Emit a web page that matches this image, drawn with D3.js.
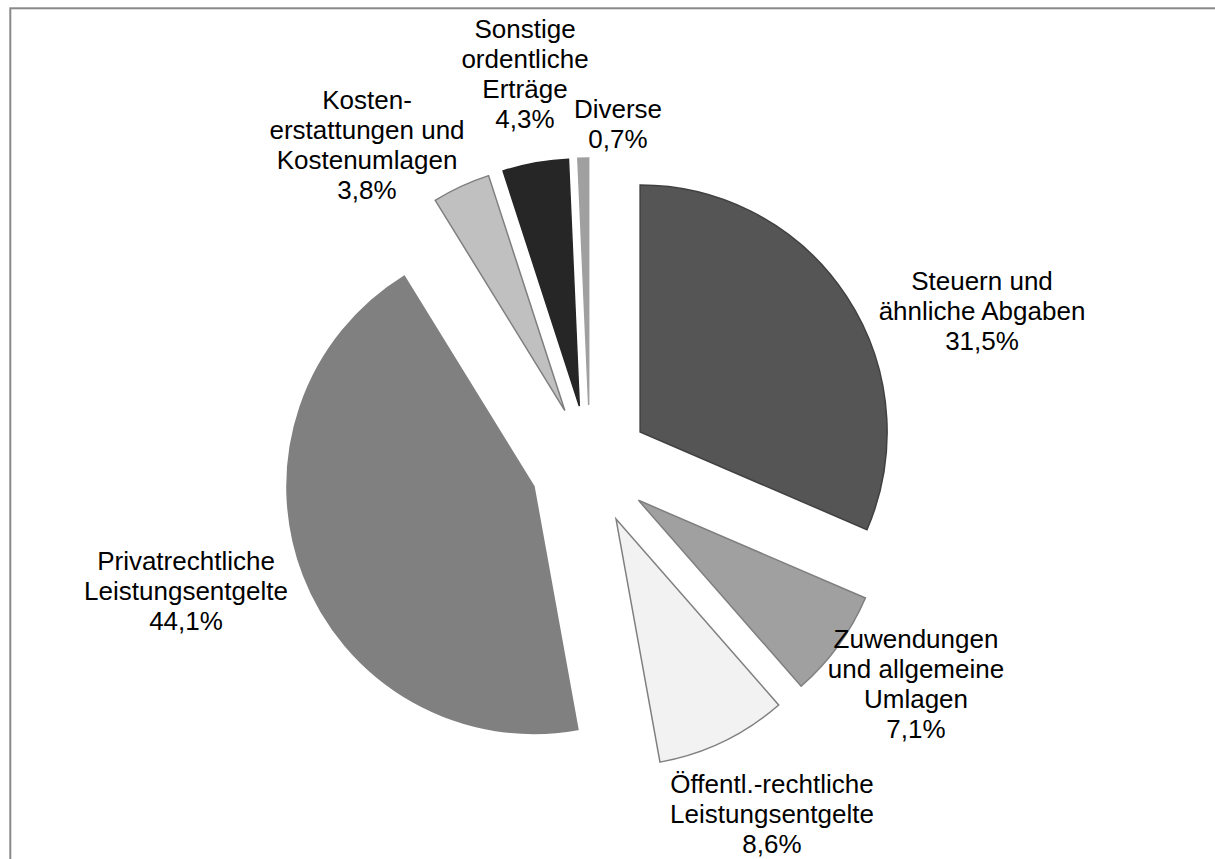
<!DOCTYPE html>
<html>
<head>
<meta charset="utf-8">
<script src="https://cdn.jsdelivr.net/npm/d3@7"></script>
<style>
  html, body { margin: 0; padding: 0; background: #fff; }
  svg { display: block; }
  text { font-family: "Liberation Sans", Arial, sans-serif; fill: #000; }
</style>
</head>
<body>
<svg id="chart" width="1215" height="859"></svg>
<script>
// Data
const categories = [
  "Steuern und ähnliche Abgaben",
  "Zuwendungen und allgemeine Umlagen",
  "Öffentl.-rechtliche Leistungsentgelte",
  "Privatrechtliche Leistungsentgelte",
  "Kosten-erstattungen und Kostenumlagen",
  "Sonstige ordentliche Erträge",
  "Diverse"
];
const values = [31.5, 7.1, 8.6, 44.1, 3.8, 4.3, 0.7];
const valueLabels = ["31,5%", "7,1%", "8,6%", "44,1%", "3,8%", "4,3%", "0,7%"];
const labelLines = [
  ["Steuern und", "ähnliche Abgaben"],
  ["Zuwendungen", "und allgemeine", "Umlagen"],
  ["Öffentl.-rechtliche", "Leistungsentgelte"],
  ["Privatrechtliche", "Leistungsentgelte"],
  ["Kosten-", "erstattungen und", "Kostenumlagen"],
  ["Sonstige", "ordentliche", "Erträge"],
  ["Diverse"]
];

// Styles
const fills = ["#555555", "#a0a0a0", "#f2f2f2", "#808080", "#c0c0c0", "#262626", "#a0a0a0"];
const strokes = ["#404040", "#7f7f7f", "#7f7f7f", "#808080", "#7f7f7f", "#262626", "#a0a0a0"];
// label anchor positions (center x, first baseline y)
const labelPos = [
  [982, 290], [916, 648], [772, 793], [186, 570], [367, 109], [525, 38], [618, 118]
];

const svg = d3.select("#chart");
const W = 1215, H = 859;

// frame
svg.append("rect")
  .attr("x", 10.3).attr("y", 8.3)
  .attr("width", W + 20).attr("height", H + 20)
  .attr("fill", "none").attr("stroke", "#898989").attr("stroke-width", 2);

const cx = 590, cy = 465, R = 247, explode = 60;

const pie = d3.pie().sort(null).value(d => d)(values);
const arc = d3.arc().innerRadius(0).outerRadius(R);

const g = svg.append("g").attr("transform", `translate(${cx},${cy})`);

g.selectAll("path.slice")
  .data(pie)
  .enter()
  .append("path")
  .attr("class", "slice")
  .attr("d", arc)
  .attr("transform", d => {
    const a = (d.startAngle + d.endAngle) / 2;
    return `translate(${explode * Math.sin(a)},${-explode * Math.cos(a)})`;
  })
  .attr("fill", (d, i) => fills[i])
  .attr("stroke", (d, i) => strokes[i])
  .attr("stroke-width", 1.5)
  .attr("stroke-linejoin", "miter");

const lineH = 30;
const labels = svg.append("g");
pie.forEach((d, i) => {
  const lines = labelLines[i].concat([valueLabels[i]]);
  const t = labels.append("text")
    .attr("text-anchor", "middle")
    .attr("font-size", 26);
  lines.forEach((ln, k) => {
    t.append("tspan")
      .attr("x", labelPos[i][0])
      .attr("y", labelPos[i][1] + k * lineH)
      .text(ln);
  });
});
</script>
</body>
</html>
